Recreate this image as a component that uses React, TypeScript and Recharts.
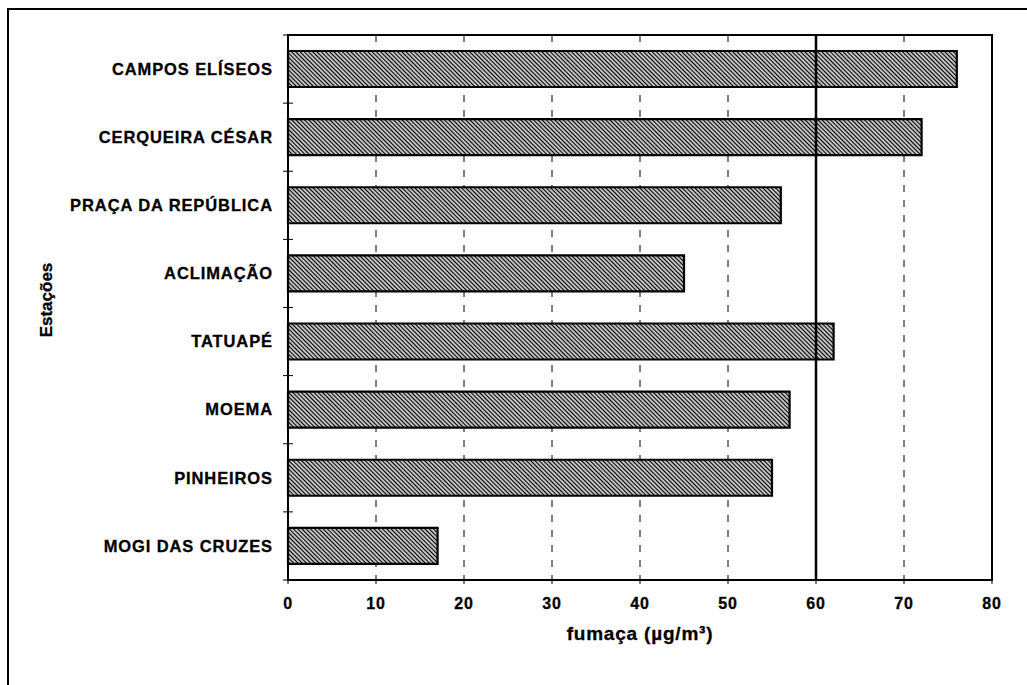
import { BarChart, Bar, XAxis, YAxis, CartesianGrid, ReferenceLine, ReferenceArea } from 'recharts'

const stations = [
  'CAMPOS ELÍSEOS',
  'CERQUEIRA CÉSAR',
  'PRAÇA DA REPÚBLICA',
  'ACLIMAÇÃO',
  'TATUAPÉ',
  'MOEMA',
  'PINHEIROS',
  'MOGI DAS CRUZES',
]
const smoke = [76, 72, 56, 45, 62, 57, 55, 17]
const xTicks = [0, 10, 20, 30, 40, 50, 60, 70, 80]
const standard = 60

const FONT = '"Liberation Sans", Arial, sans-serif'

const data = stations.map((name, i) => ({ name, value: smoke[i] }))

function StationTick(props: any) {
  const { x, y, payload, index } = props
  const half = payload?.offset ?? 34
  return (
    <g>
      <line x1={x - 5} x2={x + 5} y1={y - half} y2={y - half} stroke="#000" strokeWidth={1} />
      {index === stations.length - 1 && (
        <line x1={x - 5} x2={x} y1={y + half} y2={y + half} stroke="#000" strokeWidth={1} />
      )}
      <text x={x - 15} y={y} dy="0.35em" textAnchor="end" fontFamily={FONT} fontWeight="bold"
        fontSize={16.5} letterSpacing={0.9} fill="#000" stroke="#000" strokeWidth={0.3}>
        {payload.value}
      </text>
    </g>
  )
}

function ValueTick(props: any) {
  const { x, y, payload } = props
  return (
    <text x={x} y={y} dy="0.8em" textAnchor="middle" fontFamily={FONT} fontWeight="bold"
      fontSize={16} letterSpacing={0.8} fill="#000" stroke="#000" strokeWidth={0.3}>
      {payload.value}
    </text>
  )
}

function XTitle() {
  return (
    <text x={640} y={640} textAnchor="middle" fontFamily={FONT} fontWeight="bold"
      fontSize={19} letterSpacing={0.8} fill="#000" stroke="#000" strokeWidth={0.3}>
      fumaça (µg/m³)
    </text>
  )
}

function YTitle() {
  return (
    <text x={52} y={300} transform="rotate(-90 52 300)" textAnchor="middle" fontFamily={FONT}
      fontWeight="bold" fontSize={17} fill="#000" stroke="#000" strokeWidth={0.3}>
      Estações
    </text>
  )
}

export default function App() {
  return (
    <div style={{ position: 'absolute', left: 0, top: 0, width: 1027, height: 685, overflow: 'hidden', background: '#fff' }}>
      {/* frame around the figure (only left and top edges are visible) */}
      <div style={{ position: 'absolute', left: 7, top: 8, width: 1200, height: 900, borderLeft: '2px solid #000', borderTop: '2px solid #000' }} />
      <div style={{ position: 'absolute', left: 0, top: 0 }}>
        <BarChart width={1027} height={685} data={data} layout="vertical"
          margin={{ top: 35, right: 35, bottom: 45, left: 0 }}>
          <defs>
            <pattern id="hatch" patternUnits="userSpaceOnUse" width={3} height={3} patternTransform="rotate(-45)">
              <rect width={3} height={3} fill="#fff" />
              <line x1={1.5} y1={0} x2={1.5} y2={3} stroke="#000" strokeWidth={1.5} />
            </pattern>
          </defs>
          <CartesianGrid horizontal={false} stroke="#000" strokeWidth={1} strokeDasharray="7 8" />
          <XAxis type="number" dataKey="value" domain={[0, 80]} ticks={xTicks} height={60}
            axisLine={{ stroke: '#000', strokeWidth: 2 }} tickLine={{ stroke: '#000' }} tickSize={4} tickMargin={12}
            tick={<ValueTick />}
            label={{ content: () => <XTitle /> }} />
          <YAxis type="category" dataKey="name" width={288} tickLine={false} tickSize={0} tickMargin={0}
            axisLine={{ stroke: '#000', strokeWidth: 2 }} tick={<StationTick />}
            label={{ content: () => <YTitle /> }} />
          <Bar dataKey="value" barSize={36} fill="url(#hatch)" stroke="#000" strokeWidth={2.2} isAnimationActive={false} />
          <ReferenceLine x={standard} stroke="#000" strokeWidth={2.5} />
          <ReferenceArea x1={0} x2={80} fill="none" fillOpacity={0} stroke="#000" strokeWidth={2} />
        </BarChart>
      </div>
    </div>
  )
}
